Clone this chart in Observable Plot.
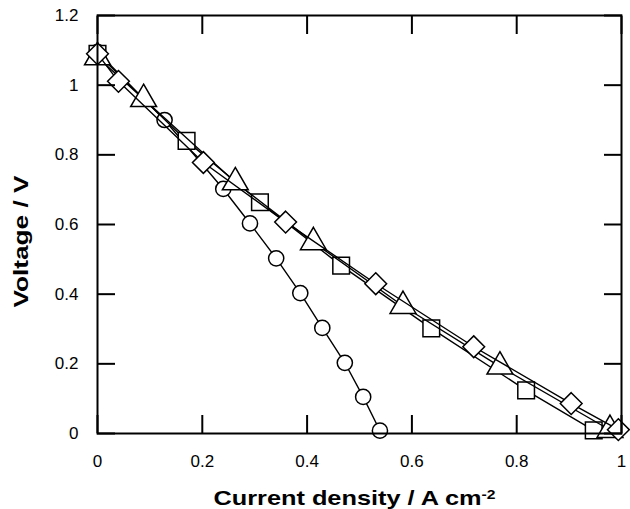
<!DOCTYPE html>
<html><head><meta charset="utf-8">
<script src="https://cdn.jsdelivr.net/npm/d3@7"></script>
<script src="https://cdn.jsdelivr.net/npm/@observablehq/plot@0.6"></script>
<style>html,body{margin:0;padding:0;background:#fff} svg{display:block}</style>
</head><body><div id="chart"></div>
<script>
// ---- data ----
const circleX   = [0, 0.128, 0.240, 0.291, 0.341, 0.387, 0.429, 0.472, 0.507, 0.539];
const circleY   = [1.095, 0.900, 0.702, 0.603, 0.503, 0.403, 0.303, 0.203, 0.105, 0.008];
const squareX   = [0, 0.170, 0.310, 0.465, 0.637, 0.818, 0.947];
const squareY   = [1.090, 0.840, 0.664, 0.482, 0.302, 0.124, 0.009];
const diamondX  = [0, 0.040, 0.202, 0.359, 0.531, 0.718, 0.904, 0.994];
const diamondY  = [1.090, 1.011, 0.778, 0.607, 0.430, 0.249, 0.086, 0.011];
const triangleX = [0, 0.088, 0.263, 0.412, 0.583, 0.768, 0.978];
const triangleY = [1.080, 0.960, 0.721, 0.549, 0.366, 0.192, 0.010];

const xTicks = [0, 0.2, 0.4, 0.6, 0.8, 1];
const xTickLabels = ["0", "0.2", "0.4", "0.6", "0.8", "1"];
const yTicks = [0, 0.2, 0.4, 0.6, 0.8, 1, 1.2];
const yTickLabels = ["0", "0.2", "0.4", "0.6", "0.8", "1", "1.2"];
const xTitle = "Current density / A cm";
const xTitleSup = "-2";
const yTitle = "Voltage / V";

// ---- styles ----
const seriesList = [
  {symbol: "circle",   xs: circleX,   ys: circleY},
  {symbol: "square",   xs: squareX,   ys: squareY},
  {symbol: "triangle", xs: triangleX, ys: triangleY},
  {symbol: "diamond2", xs: diamondX,  ys: diamondY}
];
const markerR = {circle: 7.6, square: 9.4, triangle: 9.6, diamond2: 9.8};

const rows = s => s.xs.map((x, i) => ({x, y: s.ys[i]}));

const marks = [];
for (const s of seriesList) {
  const data = rows(s);
  marks.push(Plot.line(data, {x: "x", y: "y", stroke: "black", strokeWidth: 1.4}));
  marks.push(Plot.dot(data, {x: "x", y: "y", symbol: s.symbol, r: markerR[s.symbol],
    fill: "white", stroke: "black", strokeWidth: 1.5}));
}

const fmtX = d => xTickLabels[xTicks.findIndex(t => Math.abs(t - d) < 1e-9)];
const fmtY = d => yTickLabels[yTicks.findIndex(t => Math.abs(t - d) < 1e-9)];

const chart = Plot.plot({
  width: 630,
  height: 509,
  marginLeft: 97,
  marginRight: 9,
  marginTop: 15,
  marginBottom: 76,
  style: {fontFamily: "'Liberation Sans', Arial, sans-serif", fontSize: "17px", color: "black", background: "white"},
  x: {domain: [0, 1]},
  y: {domain: [0, 1.2]},
  marks: [
    ...marks,
    Plot.axisX({anchor: "bottom", ticks: xTicks, tickFormat: fmtX, tickSize: -18, tickPadding: 39, strokeWidth: 2, label: null}),
    Plot.axisX({anchor: "top", ticks: xTicks, tickFormat: () => "", tickSize: -18, strokeWidth: 2, label: null}),
    Plot.axisY({anchor: "left", ticks: yTicks, tickFormat: fmtY, tickSize: -18, tickPadding: 37, strokeWidth: 2, label: null}),
    Plot.axisY({anchor: "right", ticks: yTicks, tickFormat: () => "", tickSize: -18, strokeWidth: 2, label: null}),
    Plot.frame({stroke: "black", strokeWidth: 2}),
    Plot.text([xTitle], {frameAnchor: "bottom", dy: 65, dx: -5, text: d => d, fontWeight: "bold", fontSize: 21, textAnchor: "middle", lineAnchor: "middle"}),
    Plot.text([yTitle], {frameAnchor: "left", dx: -76, dy: 17, text: d => d, rotate: -90, fontWeight: "bold", fontSize: 21, textAnchor: "middle", lineAnchor: "middle"})
  ]
});

document.getElementById("chart").appendChild(chart);

// superscript and horizontal stretch of the bold titles
for (const t of chart.querySelectorAll("text")) {
  if (t.textContent === xTitle) {
    const sup = document.createElementNS("http://www.w3.org/2000/svg", "tspan");
    sup.setAttribute("dy", "-0.45em");
    sup.setAttribute("font-size", "13");
    sup.textContent = xTitleSup;
    t.appendChild(sup);
    t.setAttribute("textLength", 282);
    t.setAttribute("lengthAdjust", "spacingAndGlyphs");
  } else if (t.textContent === yTitle) {
    t.setAttribute("textLength", 132);
    t.setAttribute("lengthAdjust", "spacingAndGlyphs");
  }
}
</script>
</body></html>
